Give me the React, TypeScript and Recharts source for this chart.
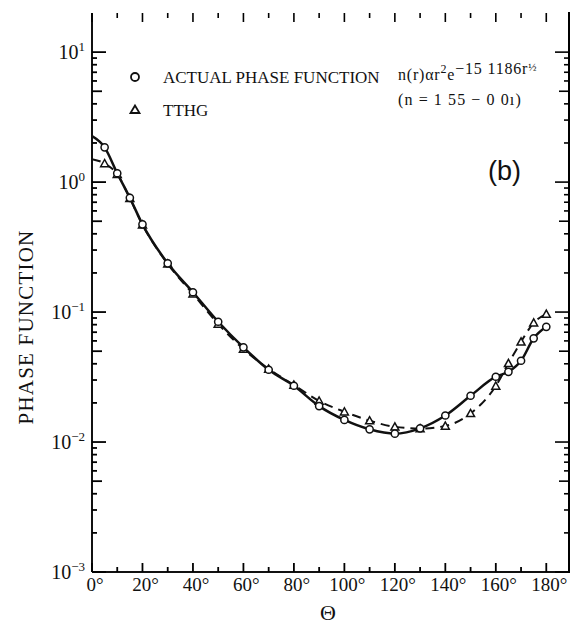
import React from 'react';
import { LineChart, Line, XAxis, YAxis } from 'recharts';

const angles = [0, 5, 10, 15, 20, 30, 40, 50, 60, 70, 80, 90, 100, 110, 120, 130, 140, 150, 160, 165, 170, 175, 180];
const actualPhase = [2.26, 1.85, 1.17, 0.757, 0.473, 0.237, 0.142, 0.0842, 0.0535, 0.036, 0.0271, 0.0189, 0.0148, 0.01253, 0.0116, 0.01274, 0.016, 0.0227, 0.0318, 0.0347, 0.0422, 0.0628, 0.077];
const tthgPhase = [1.5, 1.39, 1.15, 0.75, 0.47, 0.235, 0.138, 0.081, 0.052, 0.0365, 0.0275, 0.0207, 0.0171, 0.0146, 0.0131, 0.0127, 0.0133, 0.0166, 0.027, 0.0403, 0.059, 0.0827, 0.0966];

const xTicks = [0, 10, 20, 30, 40, 50, 60, 70, 80, 90, 100, 110, 120, 130, 140, 150, 160, 170, 180];
const xLabelStep = 20;
const decades = [0.001, 0.01, 0.1, 1, 10];
const decadeExponents = ['\u22123', '\u22122', '\u22121', '0', '1'];
const mantissas = [1, 2, 3, 4, 5, 6, 7, 8, 9];

const Y_MIN = 0.001;
const Y_MAX = 20;
const X_MAX = 189;

const yTicks: number[] = [];
decades.forEach((d) => mantissas.forEach((m) => { const v = +(d * m).toPrecision(3); if (v < Y_MAX) yTicks.push(v); }));

const data = angles.map((a, i) => ({ angle: a, actual: actualPhase[i], tthg: tthgPhase[i] }));

const SERIF = '"Liberation Serif", "Times New Roman", serif';
const INK = '#111';

const W = 564;
const H = 616;
const MARGIN = { top: 5, right: 3, bottom: 0, left: 0 };
const X_AXIS_H = 52;
const Y_AXIS_W = 84;
const PLOT_L = MARGIN.left + Y_AXIS_W;
const PLOT_T = MARGIN.top;
const PLOT_W = W - MARGIN.left - MARGIN.right - Y_AXIS_W;
const PLOT_H = H - MARGIN.top - MARGIN.bottom - X_AXIS_H;
const PLOT_R = PLOT_L + PLOT_W;
const PLOT_B = PLOT_T + PLOT_H;

// frame tick positions follow the same domains as the axes
const xPos = (v: number) => PLOT_L + (v / X_MAX) * PLOT_W;
const yPos = (v: number) =>
  PLOT_T + ((Math.log10(Y_MAX) - Math.log10(v)) / (Math.log10(Y_MAX) - Math.log10(Y_MIN))) * PLOT_H;

const mantissaOf = (v: number) => {
  const e = Math.floor(Math.log10(v) + 1e-9);
  return Math.round(v / Math.pow(10, e));
};
const decadeLabel = (v: number) => {
  const idx = decades.findIndex((d) => Math.abs(d - v) / d < 1e-6);
  return idx >= 0 ? decadeExponents[idx] : null;
};
const yTickLen = (v: number) => {
  const m = mantissaOf(v);
  return m === 1 ? 14 : m === 5 ? 10 : 5;
};
const xTickLen = (v: number) => (v % xLabelStep === 0 ? 9 : 5);

const BottomTick = (props: any) => {
  const x = Number(props.x);
  const y = Number(props.y);
  const v = props.payload.value;
  if (v % xLabelStep !== 0) return <g />;
  return (
    <text x={x + 3} y={y + 19} textAnchor="middle" fontFamily={SERIF} fontSize={19} fill={INK}>
      {`${v}\u00b0`}
    </text>
  );
};

const LeftTick = (props: any) => {
  const x = Number(props.x);
  const y = Number(props.y);
  const lab = decadeLabel(props.payload.value);
  if (lab === null) return <g />;
  return (
    <text x={x - 7} y={y + 7} textAnchor="end" fontFamily={SERIF} fontSize={20} fill={INK}>
      <tspan>10</tspan>
      <tspan dy={-8} fontSize={13}>{lab}</tspan>
    </text>
  );
};

const EmptyTick = () => <g />;

const circleDot = (props: any) => {
  const { cx, cy, index } = props;
  if (index === 0 || cx == null || cy == null) return <g key={`c${index}`} />;
  return <circle key={`c${index}`} cx={cx} cy={cy} r={3.6} fill="#fff" stroke={INK} strokeWidth={1.5} />;
};

const triangleDot = (props: any) => {
  const { cx, cy, index } = props;
  if (index === 0 || cx == null || cy == null) return <g key={`t${index}`} />;
  const s = 4;
  const pts = `${cx},${cy - s} ${cx - s},${cy + s * 0.8} ${cx + s},${cy + s * 0.8}`;
  return <polygon key={`t${index}`} points={pts} fill="#fff" stroke={INK} strokeWidth={1.5} />;
};

export default function App() {
  return (
    <div style={{ position: 'absolute', left: 8, top: 8, width: W, height: H, background: '#fff' }}>
      <LineChart width={W} height={H} data={data} margin={MARGIN}>
        <XAxis
          dataKey="angle"
          type="number"
          domain={[0, X_MAX]}
          allowDataOverflow
          ticks={xTicks}
          interval={0}
          height={X_AXIS_H}
          tickSize={0}
          tickMargin={0}
          tickLine={false}
          axisLine={{ stroke: INK, strokeWidth: 2 }}
          tick={<BottomTick />}
        />
        <XAxis
          xAxisId="top"
          orientation="top"
          type="number"
          domain={[0, X_MAX]}
          allowDataOverflow
          ticks={xTicks}
          interval={0}
          height={0}
          tickSize={0}
          tickMargin={0}
          tickLine={false}
          axisLine={{ stroke: INK, strokeWidth: 2 }}
          tick={<EmptyTick />}
        />
        <YAxis
          type="number"
          scale="log"
          domain={[Y_MIN, Y_MAX]}
          allowDataOverflow
          ticks={yTicks}
          interval={0}
          width={Y_AXIS_W}
          tickSize={0}
          tickMargin={0}
          tickLine={false}
          axisLine={{ stroke: INK, strokeWidth: 2 }}
          tick={<LeftTick />}
        />
        <YAxis
          yAxisId="right"
          orientation="right"
          type="number"
          scale="log"
          domain={[Y_MIN, Y_MAX]}
          allowDataOverflow
          ticks={yTicks}
          interval={0}
          width={0}
          tickSize={0}
          tickMargin={0}
          tickLine={false}
          axisLine={{ stroke: INK, strokeWidth: 2 }}
          tick={<EmptyTick />}
        />
        <Line
          dataKey="tthg"
          type="monotone"
          stroke={INK}
          strokeWidth={2}
          strokeDasharray="9 6"
          dot={triangleDot}
          activeDot={false}
          isAnimationActive={false}
        />
        <Line
          dataKey="actual"
          type="monotone"
          stroke={INK}
          strokeWidth={2.5}
          dot={circleDot}
          activeDot={false}
          isAnimationActive={false}
        />
      </LineChart>
      <svg
        width={W}
        height={H}
        style={{ position: 'absolute', left: 0, top: 0, pointerEvents: 'none' }}
      >
        {/* frame tick marks pointing inward on all four sides */}
        <g stroke="#000" fill="none">
          <line x1={PLOT_R} x2={PLOT_R} y1={PLOT_T - 1} y2={PLOT_B + 1} strokeWidth={2} />
          {xTicks.map((v) => (
            <g key={`xt${v}`}>
              <line x1={xPos(v)} x2={xPos(v)} y1={PLOT_B} y2={PLOT_B - xTickLen(v)} strokeWidth={1.8} />
              <line x1={xPos(v)} x2={xPos(v)} y1={PLOT_T} y2={PLOT_T + xTickLen(v)} strokeWidth={1.6} />
            </g>
          ))}
          {yTicks.map((v) => (
            <g key={`yt${v}`}>
              <line x1={PLOT_L} x2={PLOT_L + yTickLen(v)} y1={yPos(v)} y2={yPos(v)} strokeWidth={1.8} />
              <line x1={PLOT_R} x2={PLOT_R - yTickLen(v)} y1={yPos(v)} y2={yPos(v)} strokeWidth={1.6} />
            </g>
          ))}
        </g>
        <circle cx={127} cy={69} r={4} fill="#fff" stroke={INK} strokeWidth={1.8} />
        <text x={155} y={74.5} fontFamily={SERIF} fontSize={17} fill={INK}>ACTUAL PHASE FUNCTION</text>
        <polygon points="127,97.5 122.5,105 131.5,105" fill="#fff" stroke={INK} strokeWidth={1.8} />
        <text x={155} y={107.5} fontFamily={SERIF} fontSize={17} fill={INK}>TTHG</text>
        <text x={390} y={72} fontFamily={SERIF} fontSize={16} letterSpacing={0.8} fill={INK}>
          <tspan>n(r)αr</tspan>
          <tspan dy={-7} fontSize={12}>2</tspan>
          <tspan dy={7}>e</tspan>
          <tspan dy={-6} fontSize={16}>{'\u221215 1186r'}</tspan>
          <tspan dy={-3} fontSize={11}>½</tspan>
        </text>
        <text x={390} y={97} fontFamily={SERIF} fontSize={16} letterSpacing={1.1} fill={INK}>{'(n = 1 55 \u2212 0 0ı)'}</text>
        <text x={480} y={171.5} fontFamily={'"Liberation Sans", Arial, sans-serif'} fontSize={27} fill={INK}>(b)</text>
        <text
          x={25}
          y={319}
          transform="rotate(-90 25 319)"
          textAnchor="middle"
          fontFamily={SERIF}
          fontSize={21}
          letterSpacing={1.2}
          fill={INK}
        >
          PHASE FUNCTION
        </text>
        <text x={320} y={612} textAnchor="middle" fontFamily={SERIF} fontSize={22} fill={INK}>Θ</text>
      </svg>
    </div>
  );
}
